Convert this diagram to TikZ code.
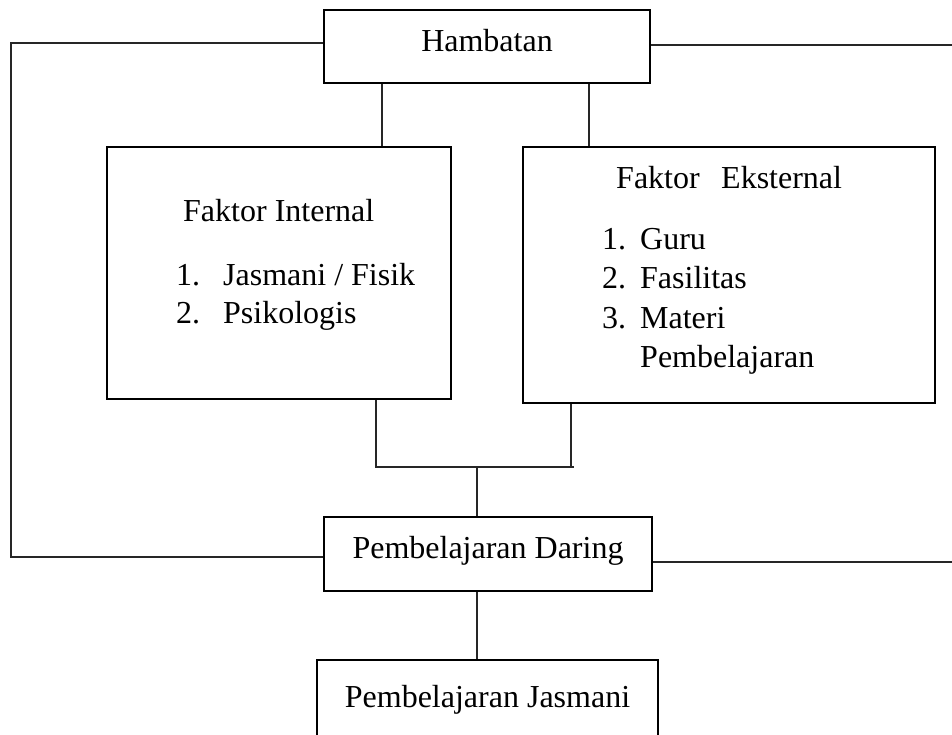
\documentclass[tikz,border=0pt]{standalone}
\usepackage{fontspec}
\setmainfont{Liberation Serif}
\begin{document}
\begin{tikzpicture}[x=1pt,y=-1pt,font=\fontsize{32}{38}\selectfont]
        \tikzstyle{box}=[rectangle,draw=black,line width=2.6pt,inner sep=0pt,text height=22pt]
        \tikzstyle{lbl}=[anchor=base west,inner sep=0pt]
        \tikzstyle{edge}=[draw=black!85,line width=1.3pt]
        \useasboundingbox (0,0) rectangle (952,735);
       \begin{scope}
         \node [box,minimum width=326pt,minimum height=73pt,text depth=11pt] (ham) at (487,46.5) {Hambatan};
         \node [box,minimum width=344pt,minimum height=252pt] (fi) at (279,273) {};
         \node [box,minimum width=412pt,minimum height=256pt] (fe) at (729,275) {};
         \node [box,minimum width=328pt,minimum height=74pt,text depth=14pt] (dar) at (488,554) {Pembelajaran Daring};
         \node [box,minimum width=341pt,minimum height=80pt,text depth=8pt] (jas) at (487.5,700) {Pembelajaran Jasmani};
       \end{scope}
       \begin{scope}
         \node [lbl] (fi0) at (183,222) {Faktor Internal};
         \node [lbl] (fi1) at (176,285) {\makebox[47pt][l]{1.}Jasmani / Fisik};
         \node [lbl] (fi2) at (176,323) {\makebox[47pt][l]{2.}Psikologis};
         \node [lbl] (fe0) at (616,189) {Faktor\hspace{21.5pt}Eksternal};
         \node [lbl] (fe1) at (602,249) {\makebox[38pt][l]{1.}Guru};
         \node [lbl] (fe2) at (602,288) {\makebox[38pt][l]{2.}Fasilitas};
         \node [lbl] (fe3) at (602,328) {\makebox[38pt][l]{3.}Materi};
         \node [lbl] (fe4) at (640,367) {Pembelajaran};
       \end{scope}
       \begin{scope}
         \coordinate (tl) at (11,43);
         \coordinate (bl) at (11,557);
         \coordinate (tr) at (952,45);
         \coordinate (br) at (952,562);
         \coordinate (c1) at (382,0);
         \coordinate (c2) at (589,0);
         \coordinate (m1) at (376,467);
         \coordinate (m2) at (574,467);
         \coordinate (m3) at (477,467);
         \coordinate (m4) at (571,467);
         \path[edge] (ham.west |- tl) -- (tl) -- (bl) -- (dar.west |- bl);
         \path[edge] (ham.east |- tr) -- (tr);
         \path[edge] (dar.east |- br) -- (br);
         \path[edge] (ham.south -| c1) -- (fi.north -| c1);
         \path[edge] (ham.south -| c2) -- (fe.north -| c2);
         \path[edge] (fi.south -| m1) -- (m1) -- (m2);
         \path[edge] (fe.south -| m4) -- (m4);
         \path[edge] (m3) -- (dar.north -| m3);
         \path[edge] (dar.south -| m3) -- (jas.north -| m3);
       \end{scope}
\end{tikzpicture}
\end{document}
